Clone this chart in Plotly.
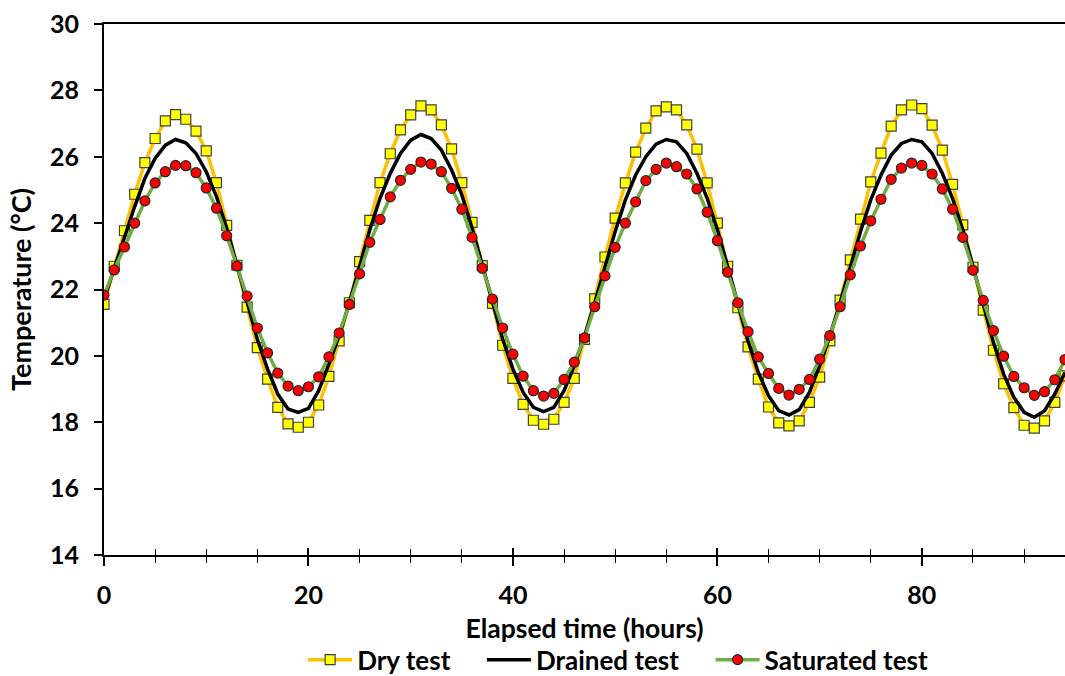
import plotly.graph_objects as go

hours = list(range(0, 95))

dry_test = [
    21.55, 22.70, 23.77, 24.87, 25.82, 26.55, 27.08, 27.27, 27.13, 26.77,
    26.18, 25.22, 23.93, 22.73, 21.47, 20.25, 19.30, 18.45, 17.95, 17.85,
    18.00, 18.52, 19.38, 20.45, 21.60, 22.84, 24.08, 25.22, 26.09, 26.81,
    27.26, 27.53, 27.41, 26.96, 26.24, 25.22, 24.02, 22.72, 21.58, 20.32,
    19.32, 18.54, 18.06, 17.94, 18.09, 18.60, 19.32, 20.50, 21.72, 22.98,
    24.15, 25.21, 26.14, 26.86, 27.38, 27.50, 27.41, 26.96, 26.23, 25.21,
    24.00, 22.70, 21.45, 20.27, 19.30, 18.46, 17.98, 17.89, 18.04, 18.60,
    19.36, 20.45, 21.68, 22.89, 24.12, 25.24, 26.11, 26.92, 27.41, 27.56,
    27.45, 26.95, 26.20, 25.17, 23.95, 22.67, 21.38, 20.17, 19.16, 18.44,
    17.91, 17.82, 18.04, 18.60, 19.40,
]

drained_test = [
    21.70, 22.65, 23.55, 24.50, 25.35, 25.95, 26.35, 26.52, 26.42, 26.10,
    25.55, 24.80, 23.85, 22.75, 21.60, 20.50, 19.60, 18.85, 18.40, 18.30,
    18.42, 18.95, 19.75, 20.60, 21.60, 22.70, 23.80, 24.75, 25.50, 26.10,
    26.50, 26.67, 26.55, 26.20, 25.60, 24.85, 23.85, 22.75, 21.60, 20.50,
    19.60, 18.90, 18.45, 18.32, 18.45, 18.95, 19.70, 20.60, 21.60, 22.70,
    23.75, 24.70, 25.45, 26.00, 26.38, 26.52, 26.45, 26.10, 25.50, 24.75,
    23.80, 22.70, 21.55, 20.45, 19.50, 18.80, 18.35, 18.22, 18.38, 18.90,
    19.70, 20.60, 21.60, 22.70, 23.75, 24.70, 25.45, 26.05, 26.40, 26.52,
    26.45, 26.10, 25.50, 24.75, 23.80, 22.70, 21.50, 20.40, 19.45, 18.75,
    18.30, 18.15, 18.35, 18.85, 19.50,
]

saturated_test = [
    21.83, 22.59, 23.28, 24.00, 24.67, 25.21, 25.55, 25.74, 25.73, 25.52,
    25.06, 24.45, 23.62, 22.71, 21.80, 20.84, 20.09, 19.48, 19.09, 18.95,
    19.07, 19.37, 19.97, 20.69, 21.55, 22.47, 23.42, 24.11, 24.79, 25.29,
    25.62, 25.84, 25.78, 25.55, 25.05, 24.42, 23.57, 22.64, 21.71, 20.84,
    20.05, 19.39, 18.95, 18.79, 18.87, 19.29, 19.81, 20.54, 21.48, 22.41,
    23.27, 24.00, 24.64, 25.28, 25.62, 25.81, 25.70, 25.48, 25.03, 24.33,
    23.47, 22.52, 21.60, 20.73, 19.97, 19.47, 19.02, 18.82, 18.99, 19.29,
    19.90, 20.61, 21.48, 22.44, 23.31, 24.07, 24.72, 25.32, 25.66, 25.81,
    25.74, 25.48, 25.03, 24.42, 23.57, 22.58, 21.67, 20.76, 19.99, 19.38,
    19.04, 18.81, 18.92, 19.28, 19.89,
]

x_ticks = [0, 20, 40, 60, 80]
y_ticks = [14, 16, 18, 20, 22, 24, 26, 28, 30]
series_names = ["Dry test", "Drained test", "Saturated test"]

FONT = "Lato, 'Open Sans', sans-serif"
GAP = "\u00a0" * 4

fig = go.Figure()
fig.add_trace(go.Scatter(
    x=hours, y=dry_test, name="<b>%s</b>%s" % (series_names[0], GAP), mode="lines+markers",
    line=dict(color="#FFC000", width=3.5),
    marker=dict(symbol="square", size=10, color="#FFFF00",
                line=dict(color="#404040", width=1.2)),
))
fig.add_trace(go.Scatter(
    x=hours, y=drained_test, name="<b>%s</b>%s" % (series_names[1], GAP), mode="lines",
    line=dict(color="#000000", width=3.5),
))
fig.add_trace(go.Scatter(
    x=hours, y=saturated_test, name="<b>%s</b>" % series_names[2], mode="lines+markers",
    line=dict(color="#70AD47", width=3.5),
    marker=dict(symbol="circle", size=10, color="#FF0000",
                line=dict(color="#262626", width=1.2)),
))
# invisible trace on overlay axis to give the x ticks an inside part (cross ticks)
fig.add_trace(go.Scatter(x=[0], y=[14], xaxis="x2", mode="markers",
                         marker=dict(opacity=0), showlegend=False, hoverinfo="skip"))

fig.update_layout(
    width=1065, height=676,
    margin=dict(l=104, r=0, t=24, b=121, autoexpand=False),
    paper_bgcolor="white", plot_bgcolor="white",
    font=dict(family=FONT, color="black", size=25),
    showlegend=True,
    legend=dict(orientation="h", x=0.535, xanchor="center", y=-0.153, yanchor="top",
                font=dict(family=FONT, size=26, color="black"),
                itemwidth=44, tracegroupgap=0, bgcolor="rgba(0,0,0,0)"),
    xaxis=dict(
        range=[0, 94], tickvals=x_ticks, ticktext=["<b>%d</b>" % v for v in x_ticks],
        automargin=False,
        showgrid=False, zeroline=False, showline=True, linecolor="black", linewidth=2.2,
        mirror=True, ticks="outside", ticklen=9, tickwidth=1.5, tickcolor="black",
        ticklabelstandoff=8,
        minor=dict(dtick=5, tick0=0, ticks="outside", ticklen=6, tickwidth=1.2, tickcolor="black"),
        tickfont=dict(family=FONT, size=25, color="black"),
        title=dict(text="<b>Elapsed time (hours)</b>", standoff=11,
                   font=dict(family=FONT, size=26.5, color="black")),
    ),
    xaxis2=dict(
        range=[0, 94], overlaying="x", side="bottom", showgrid=False, zeroline=False,
        showline=False, showticklabels=False, tickvals=x_ticks, automargin=False,
        ticks="inside", ticklen=7, tickwidth=1.5, tickcolor="black",
        minor=dict(dtick=5, tick0=0, ticks="inside", ticklen=6, tickwidth=1.2, tickcolor="black"),
    ),
    yaxis=dict(
        range=[14, 30], tickvals=y_ticks, ticktext=["<b>%d</b>" % v for v in y_ticks],
        automargin=False,
        showgrid=False, zeroline=False, showline=True, linecolor="black", linewidth=2.2,
        mirror=False, ticks="outside", ticklen=8, tickwidth=1.5, tickcolor="black",
        ticklabelstandoff=10,
        tickfont=dict(family=FONT, size=25, color="black"),
        title=dict(text="<b>Temperature (°C)</b>", standoff=10,
                   font=dict(family=FONT, size=27, color="black")),
    ),
)

fig.write_html("out.html")
